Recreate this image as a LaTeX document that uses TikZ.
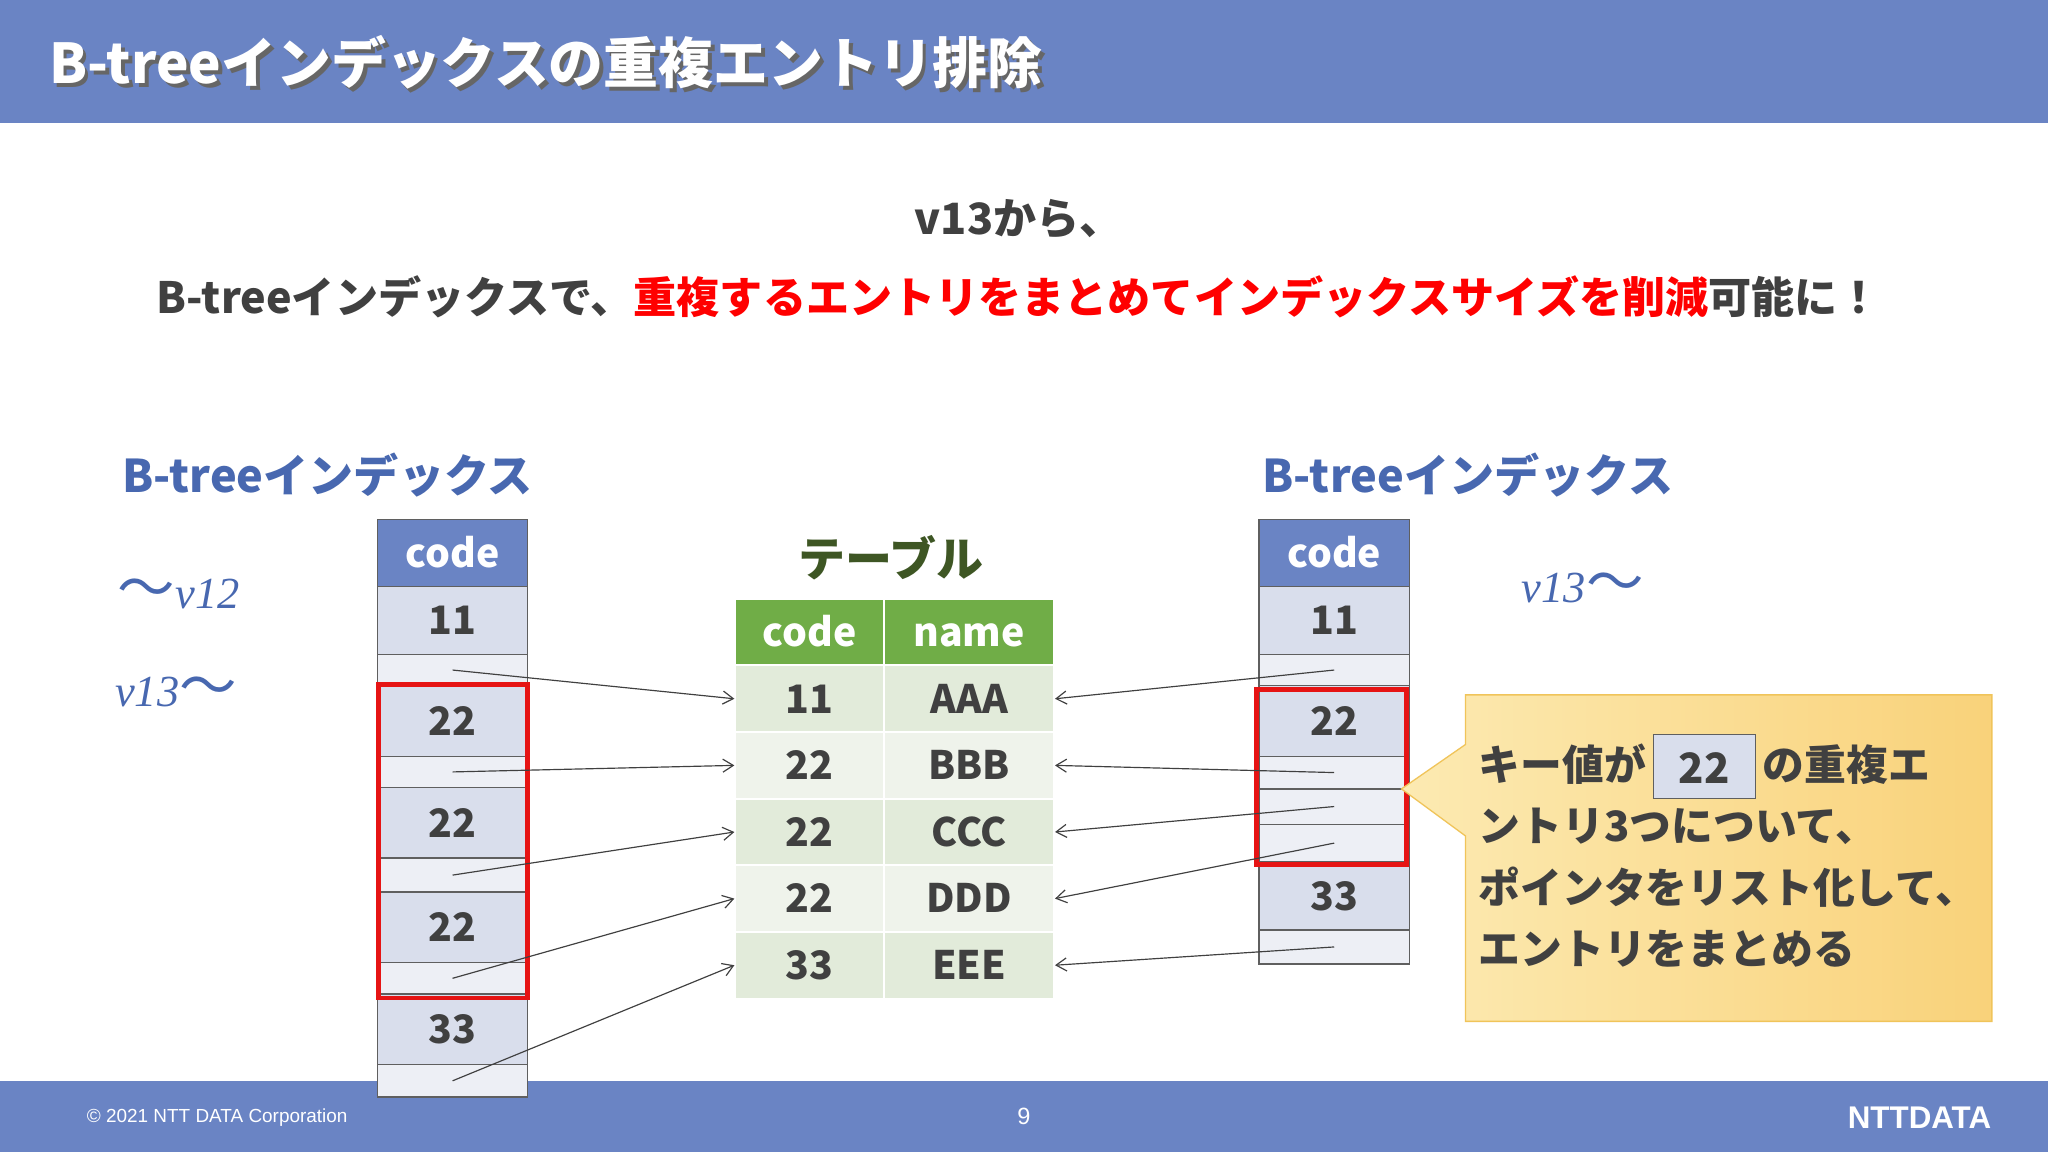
\documentclass[tikz,border=0pt]{standalone}
\usepackage{fontspec}
\setmainfont{Noto Sans CJK JP}
\newfontfamily\vfont{Liberation Serif}
\newfontfamily\lsans{Liberation Sans}
\usetikzlibrary{arrows.meta}
\definecolor{hdr}{RGB}{106,132,196}
\definecolor{cellA}{RGB}{217,222,236}
\definecolor{cellB}{RGB}{237,239,245}
\definecolor{blueT}{RGB}{72,104,176}
\definecolor{grn}{RGB}{112,173,71}
\definecolor{gA}{RGB}{226,235,218}
\definecolor{gB}{RGB}{239,243,235}
\definecolor{dgreen}{RGB}{62,86,36}
\definecolor{txt}{RGB}{64,64,64}
\definecolor{redT}{RGB}{255,0,0}
\definecolor{redR}{RGB}{230,20,20}
\definecolor{edge}{RGB}{95,95,95}
\definecolor{calE}{RGB}{240,196,90}
\definecolor{calL}{RGB}{252,234,178}
\definecolor{calR}{RGB}{249,210,122}
\newcommand{\wave}{{\normalfont\fontsize{44}{44}\selectfont 〜}}
\tikzset{
 cellbase/.style={draw=edge, line width=1pt, minimum width=115pt, inner sep=0pt, text height=22pt, text depth=0pt, font=\fontsize{30}{30}\selectfont\bfseries, text=txt},
 hcell/.style={cellbase, fill=hdr, text=white, minimum height=51pt},
 vcell/.style={cellbase, fill=cellA},
 pcell/.style={cellbase, fill=cellB, text height=0pt, text depth=0pt},
 tcell/.style={draw=white, line width=1.5pt, inner sep=0pt, minimum height=51pt, text height=22pt, text depth=0pt, font=\fontsize{30}{30}\selectfont\bfseries, text=txt},
 ptr/.style={-{Straight Barb[length=8pt,width=10pt]}, draw=txt, line width=0.9pt},
 redbox/.style={draw=redR, line width=3.5pt},
 bluelabel/.style={text=blueT, font=\fontsize{34.5}{34.5}\selectfont\bfseries, anchor=west},
 vlabel/.style={text=blueT, font=\fontsize{34}{34}\selectfont\vfont\itshape}
}
\begin{document}
\begin{tikzpicture}[x=1pt,y=-1pt]
\useasboundingbox (0,0) rectangle (1568,882);
\fill[white] (0,0) rectangle (1568,882);
% header/footer
\fill[hdr] (0,0) rectangle (1568,94);
\fill[hdr] (0,828) rectangle (1568,882);
\node[anchor=west, text=black!60, font=\fontsize{42}{42}\selectfont\bfseries] (titsh) at (37,51) {B-treeインデックスの重複エントリ排除};
\node[anchor=west, text=white, font=\fontsize{42}{42}\selectfont\bfseries] (tit) at (34,48) {B-treeインデックスの重複エントリ排除};
\node[anchor=west, text=white, font=\lsans\fontsize{14.5}{14.5}\selectfont] (copy) at (63,856) {© 2021 NTT DATA Corporation};
\node[text=white, font=\lsans\fontsize{18}{18}\selectfont] (pg) at (784,855) {9};
\node[anchor=east, text=white, font=\lsans\fontsize{24}{24}\selectfont\bfseries] (logo) at (1528,856) {NTTDATA};
% headline
\node[text=txt, font=\fontsize{33}{33}\selectfont\bfseries] (l1) at (780,168) {v13から、};
\node[text=txt, font=\fontsize{33}{33}\selectfont\bfseries] (l2) at (780,227) {B-treeインデックスで、\textcolor{redT}{重複するエントリをまとめてインデックスサイズを削減}可能に！};
% labels
\node[bluelabel] (lt) at (90,364) {B-treeインデックス};
\node[bluelabel] (rt) at (963,364) {B-treeインデックス};
\node[vlabel, anchor=west, inner sep=0pt] (v12) at (90,455) {\wave v12};
\node[vlabel, anchor=west, inner sep=0pt] (v13l) at (88,530) {v13\wave};
\node[vlabel, anchor=west, inner sep=0pt] (v13r) at (1165,450) {v13\wave};
\node[text=dgreen, font=\fontsize{36}{36}\selectfont\bfseries] (tbl) at (682,427) {テーブル};
% left column
\node[hcell] (lh) at (346.5,423.5) {code};
\node[vcell, minimum height=52pt] (lv1) at (346.5,475) {11};
\node[pcell, minimum height=24pt] (lp1) at (346.5,513) {};
\node[vcell, minimum height=54pt] (lv2) at (346.5,552) {22};
\node[pcell, minimum height=24pt] (lp2) at (346.5,591) {};
\node[vcell, minimum height=54pt] (lv3) at (346.5,630) {22};
\node[pcell, minimum height=26pt] (lp3) at (346.5,670) {};
\node[vcell, minimum height=54pt] (lv4) at (346.5,710) {22};
\node[pcell, minimum height=24pt] (lp4) at (346.5,749) {};
\node[vcell, minimum height=54pt] (lv5) at (346.5,788) {33};
\node[pcell, minimum height=25pt] (lp5) at (346.5,827.5) {};
\draw[redbox] (290,524) rectangle (404,764);
% right column
\node[hcell] (rh) at (1021.5,423.5) {code};
\node[vcell, minimum height=52pt] (rv1) at (1021.5,475) {11};
\node[pcell, minimum height=24pt] (rp1) at (1021.5,513) {};
\node[vcell, minimum height=54pt] (rv2) at (1021.5,552) {22};
\node[pcell, minimum height=25pt] (rp2) at (1021.5,591.5) {};
\node[pcell, minimum height=27pt] (rp3) at (1021.5,617.5) {};
\node[pcell, minimum height=29pt] (rp4) at (1021.5,645.5) {};
\node[vcell, minimum height=52pt] (rv5) at (1021.5,686) {33};
\node[pcell, minimum height=26pt] (rp5) at (1021.5,725) {};
\draw[redbox] (962,528) rectangle (1077,662);
% table
\node[tcell, fill=grn, text=white, minimum width=114pt] (th1) at (620,484) {code};
\node[tcell, fill=grn, text=white, minimum width=130pt] (th2) at (742,484) {name};
\node[tcell, fill=gA, minimum width=114pt] (a1) at (620,535) {11};
\node[tcell, fill=gA, minimum width=130pt] (b1) at (742,535) {AAA};
\node[tcell, fill=gB, minimum width=114pt] (a2) at (620,586) {22};
\node[tcell, fill=gB, minimum width=130pt] (b2) at (742,586) {BBB};
\node[tcell, fill=gA, minimum width=114pt] (a3) at (620,637) {22};
\node[tcell, fill=gA, minimum width=130pt] (b3) at (742,637) {CCC};
\node[tcell, fill=gB, minimum width=114pt] (a4) at (620,688) {22};
\node[tcell, fill=gB, minimum width=130pt] (b4) at (742,688) {DDD};
\node[tcell, fill=gA, minimum width=114pt] (a5) at (620,739) {33};
\node[tcell, fill=gA, minimum width=130pt] (b5) at (742,739) {EEE};
% arrows left
\draw[ptr] (lp1.center) -- (a1.west);
\draw[ptr] (lp2.center) -- (a2.west);
\draw[ptr] (lp3.center) -- (a3.west);
\draw[ptr] (lp4.center) -- (a4.west);
\draw[ptr] (lp5.center) -- (a5.west);
% arrows right
\draw[ptr] (rp1.center) -- (b1.east);
\draw[ptr] (rp2.center) -- (b2.east);
\draw[ptr] (rp3.center) -- (b3.east);
\draw[ptr] (rp4.center) -- (b4.east);
\draw[ptr] (rp5.center) -- (b5.east);
% callout
\path[draw=calE, line width=1pt, left color=calL, right color=calR]
 (1122,532) -- (1525,532) -- (1525,782) -- (1122,782) -- (1122,640) -- (1073,604) -- (1122,570) -- cycle;
\setlength{\fboxsep}{0pt}
\node[anchor=north west, align=left, text=txt, font=\fontsize{32}{47}\selectfont\bfseries, inner sep=0pt] (co) at (1132,562)
 {キー値が\,\raisebox{-7pt}{\fcolorbox{edge}{cellA}{\makebox[78pt]{\rule[-6pt]{0pt}{48pt}\raisebox{5pt}{22}}}}\,の重複エ\\ントリ3つについて、\\ポインタをリスト化して、\\エントリをまとめる};
\end{tikzpicture}
\end{document}
